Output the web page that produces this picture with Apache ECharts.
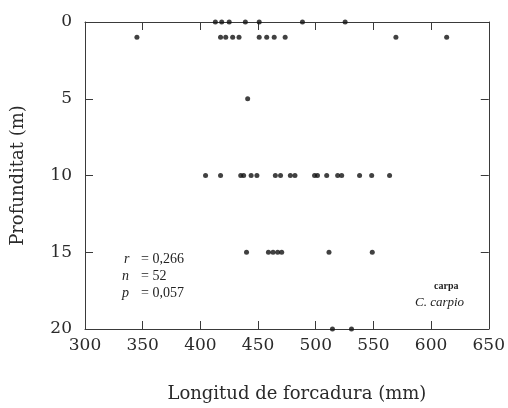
<!DOCTYPE html>
<html>
<head>
<meta charset="utf-8">
<script src="https://cdn.jsdelivr.net/npm/echarts@6/dist/echarts.min.js"></script>
<style>
  html, body { margin: 0; padding: 0; background: #fff; }
  #chart { width: 508px; height: 408px; }
</style>
</head>
<body>
<div id="chart"></div>
<script>
// longitud de forcadura (mm) per profunditat (m)
var depth0 = [413, 418.5, 425, 439, 451, 488.5, 525.5];
var depth1 = [345, 417.5, 422, 428, 433.5, 451, 457.5, 464, 473.5, 569.5, 613.5];
var depth5 = [441];
var depth10 = [404.5, 417.5, 435, 437.5, 444, 449, 465, 469.5, 478, 482, 499, 501.5, 509.5, 519, 522.5, 538, 548.5, 564];
var depth15 = [440, 459, 463, 467, 470.5, 511.5, 549];
var depth20 = [514.5, 531];
var xTicks = [300, 350, 400, 450, 500, 550, 600, 650];
var yTicks = [0, 5, 10, 15, 20];

var rows = [[0, depth0], [1, depth1], [5, depth5], [10, depth10], [15, depth15], [20, depth20]];
var points = [];
rows.forEach(function (r) {
    r[1].forEach(function (x) { points.push([x, r[0]]); });
});

var serif = 'Liberation Serif';
var wide = 'DejaVu Serif';
var axisColor = '#3a3a3a';
function line() { return { show: true, onZero: false, lineStyle: { color: axisColor, width: 1 } }; }
function tick() { return { show: true, inside: true, length: 8, lineStyle: { color: axisColor } }; }

var chart = echarts.init(document.getElementById('chart'));
chart.setOption({
    backgroundColor: '#fff',
    animation: false,
    grid: { left: 85, right: 16, top: 22, bottom: 78 },
    xAxis: [{
        type: 'value', position: 'bottom',
        min: xTicks[0], max: xTicks[xTicks.length - 1], interval: 50,
        name: 'Longitud de forcadura (mm)',
        nameLocation: 'middle', nameGap: 56,
        nameTextStyle: { fontFamily: wide, fontSize: 18, color: '#2a2a2a', padding: [0, 0, 0, 20] },
        axisLine: line(),
        axisTick: tick(),
        axisLabel: { fontFamily: wide, fontSize: 17, color: '#2a2a2a', margin: 8 },
        splitLine: { show: false }
    }, {
        type: 'value', position: 'top',
        min: xTicks[0], max: xTicks[xTicks.length - 1], interval: 50,
        axisLine: line(),
        axisTick: tick(),
        axisLabel: { show: false },
        splitLine: { show: false }
    }],
    yAxis: [{
        type: 'value', inverse: true, position: 'left',
        min: yTicks[0], max: yTicks[yTicks.length - 1], interval: 5,
        name: 'Profunditat (m)',
        nameLocation: 'middle', nameGap: 58, nameRotate: 90,
        nameTextStyle: { fontFamily: wide, fontSize: 18, color: '#2a2a2a' },
        axisLine: line(),
        axisTick: tick(),
        axisLabel: { fontFamily: wide, fontSize: 17, color: '#2a2a2a', margin: 13 },
        splitLine: { show: false }
    }, {
        type: 'value', inverse: true, position: 'right',
        min: yTicks[0], max: yTicks[yTicks.length - 1], interval: 5,
        axisLine: line(),
        axisTick: tick(),
        axisLabel: { show: false },
        splitLine: { show: false }
    }],
    series: [{
        type: 'scatter',
        xAxisIndex: 0,
        yAxisIndex: 0,
        data: points,
        symbol: 'circle',
        symbolSize: 5,
        clip: false,
        itemStyle: { color: '#111' }
    }],
    graphic: [
        { type: 'text', left: 124, top: 252, style: { text: 'r', font: 'italic 14px ' + serif, fill: '#222' } },
        { type: 'text', left: 141, top: 252, style: { text: '= 0,266', font: '14px ' + serif, fill: '#222' } },
        { type: 'text', left: 122, top: 269, style: { text: 'n', font: 'italic 14px ' + serif, fill: '#222' } },
        { type: 'text', left: 141, top: 269, style: { text: '= 52', font: '14px ' + serif, fill: '#222' } },
        { type: 'text', left: 122, top: 286, style: { text: 'p', font: 'italic 14px ' + serif, fill: '#222' } },
        { type: 'text', left: 141, top: 286, style: { text: '= 0,057', font: '14px ' + serif, fill: '#222' } },
        { type: 'text', left: 434, top: 281, style: { text: 'carpa', font: 'bold 10px ' + serif, fill: '#222' } },
        { type: 'text', left: 415, top: 296, style: { text: 'C. carpio', font: 'italic 13px ' + serif, fill: '#222' } }
    ]
});
</script>
</body>
</html>
